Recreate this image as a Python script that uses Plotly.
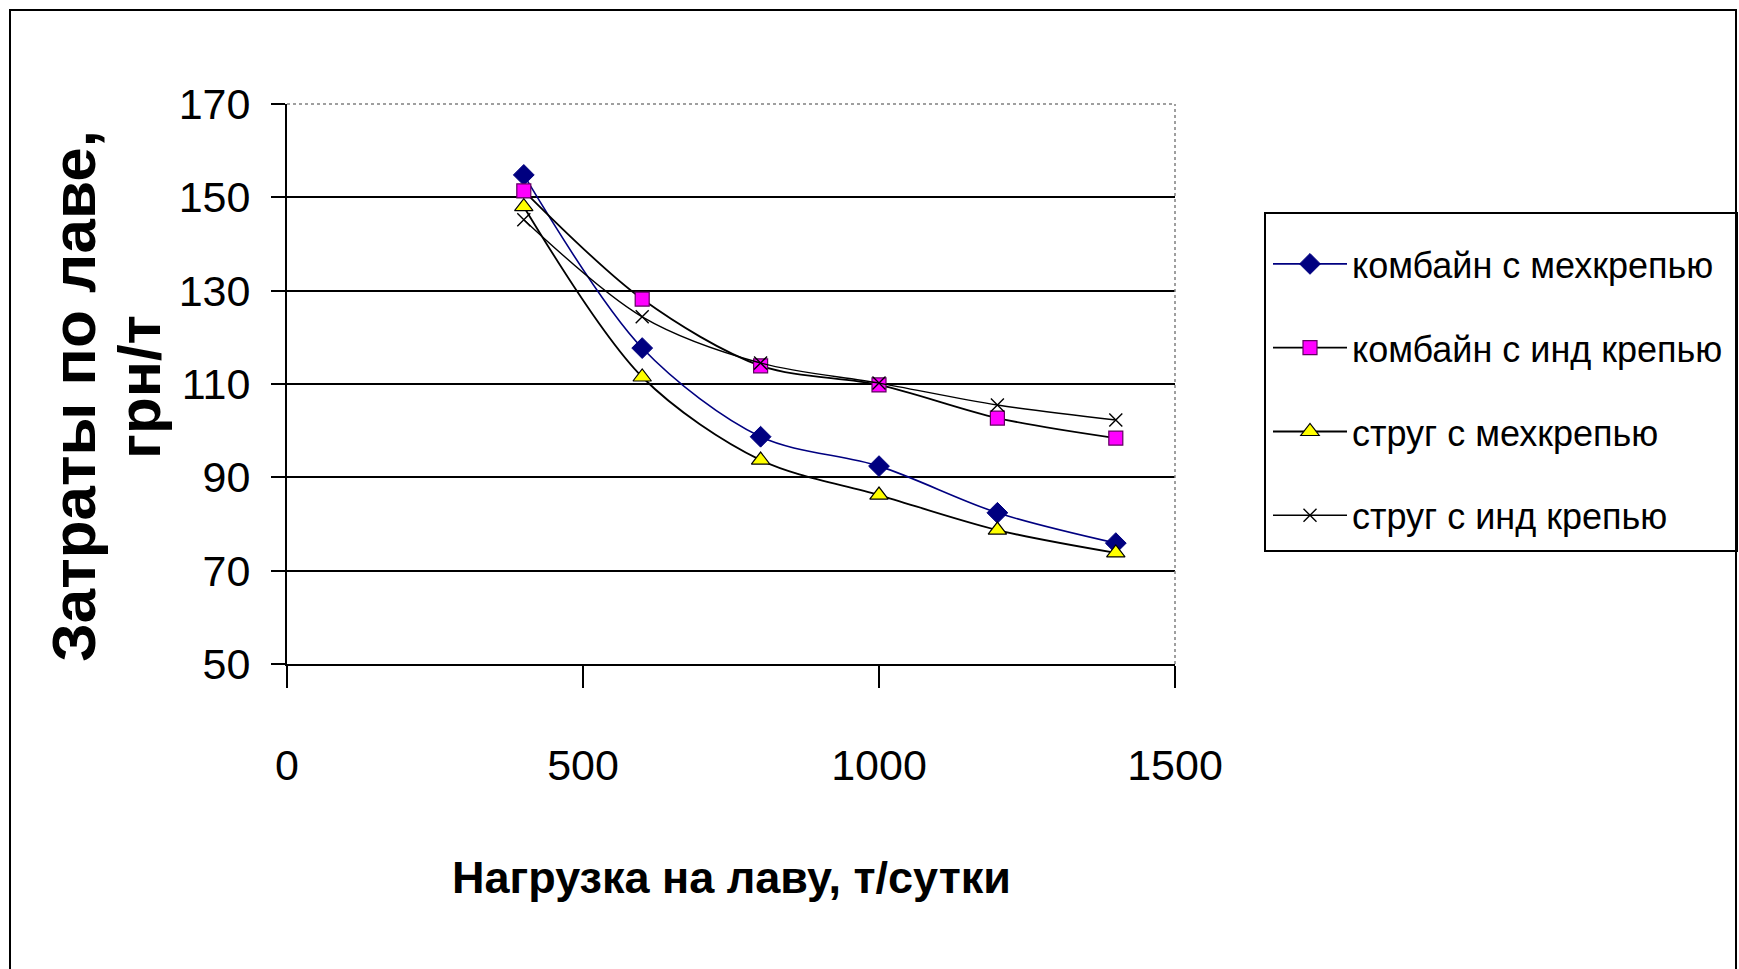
import plotly.graph_objects as go

# Нагрузка на лаву, т/сутки
load = [400, 600, 800, 1000, 1200, 1400]

# Затраты по лаве, грн/т
combine_mech = [154.8, 117.7, 98.7, 92.4, 82.4, 75.9]
combine_ind = [151.4, 128.2, 113.9, 109.8, 102.7, 98.4]
plough_mech = [148.0, 111.5, 93.7, 86.2, 78.7, 73.8]
plough_ind = [145.2, 124.4, 114.5, 110.2, 105.5, 102.3]

series_names = [
    "комбайн с мехкрепью",
    "комбайн с инд крепью",
    "струг с мехкрепью",
    "струг с инд крепью",
]

x_ticks = [0, 500, 1000, 1500]
y_ticks = [50, 70, 90, 110, 130, 150, 170]

W, H = 1739, 969
L, R, T, B = 287, 1175, 104, 664
FONT = "Liberation Sans, Arial, sans-serif"


def px(x):
    return (x - L) / (R - L)


def py(y):
    return (B - y) / (B - T)


styles = [
    dict(line=dict(color="#000080", width=1.6),
         marker=dict(symbol="diamond", size=16, color="#000080",
                     line=dict(color="#000080", width=1))),
    dict(line=dict(color="#000000", width=1.8),
         marker=dict(symbol="square", size=14, color="#ff00ff",
                     line=dict(color="#600060", width=1.2))),
    dict(line=dict(color="#000000", width=1.8),
         marker=dict(symbol="triangle-up", size=16, color="#ffff00",
                     line=dict(color="#000000", width=1.2))),
    dict(line=dict(color="#000000", width=1.4),
         marker=dict(symbol="x-thin-open", size=13, color="#000000",
                     line=dict(color="#000000", width=1.4))),
]

fig = go.Figure()
for i, (name, ys) in enumerate(zip(series_names,
                                   [combine_mech, combine_ind, plough_mech, plough_ind])):
    fig.add_trace(go.Scatter(
        x=load, y=ys, name=name, mode="lines+markers",
        line_shape="spline", legendgroup=f"g{i}",
        line=dict(styles[i]["line"], smoothing=0.9),
        marker=styles[i]["marker"],
    ))

# outer frame of the chart
fig.add_shape(type="rect", xref="paper", yref="paper",
              x0=px(10), x1=px(1736), y0=py(975), y1=py(10),
              line=dict(color="#000000", width=2), layer="below")
# legend frame
fig.add_shape(type="rect", xref="paper", yref="paper",
              x0=px(1265), x1=px(1737), y0=py(551), y1=py(213),
              line=dict(color="#000000", width=2), layer="below")
# plot-area border (top and right), dotted grey
fig.add_shape(type="line", xref="paper", yref="paper",
              x0=0, x1=1, y0=1, y1=1,
              line=dict(color="#808080", width=1.5, dash="dot"))
fig.add_shape(type="line", xref="paper", yref="paper",
              x0=1, x1=1, y0=0, y1=1,
              line=dict(color="#808080", width=1.5, dash="dot"))

# axis titles
fig.add_annotation(text="<b>Нагрузка на лаву, т/сутки</b>", xref="paper", yref="paper",
                   x=px(731), y=py(877), xanchor="center", yanchor="middle",
                   showarrow=False, font=dict(family=FONT, size=45, color="#000000"))
fig.add_annotation(text="<b>Затраты по лаве,</b>", xref="paper", yref="paper",
                   x=px(74), y=py(396), xanchor="center", yanchor="middle",
                   showarrow=False, textangle=-90,
                   font=dict(family=FONT, size=62, color="#000000"))
fig.add_annotation(text="<b>грн/т</b>", xref="paper", yref="paper",
                   x=px(139), y=py(387), xanchor="center", yanchor="middle",
                   showarrow=False, textangle=-90,
                   font=dict(family=FONT, size=60, color="#000000"))

fig.update_layout(
    width=W, height=H,
    margin=dict(l=L, r=W - R, t=T, b=H - B, autoexpand=False),
    paper_bgcolor="#ffffff", plot_bgcolor="#ffffff",
    showlegend=True,
    legend=dict(
        x=px(1268), y=py(234), xanchor="left", yanchor="top",
        borderwidth=0, bgcolor="rgba(0,0,0,0)",
        font=dict(family=FONT, size=36, color="#000000"),
        tracegroupgap=34, itemwidth=74, traceorder="grouped",
    ),
    xaxis=dict(
        range=[0, 1500], tickvals=x_ticks, ticktext=[str(v) for v in x_ticks],
        showgrid=False, zeroline=False, showline=True, linecolor="#000000", linewidth=2,
        ticks="outside", ticklen=22, tickwidth=2, tickcolor="#000000",
        ticklabelstandoff=40,
        tickfont=dict(family=FONT, size=43, color="#000000"),
    ),
    yaxis=dict(
        range=[50, 170], tickvals=y_ticks, ticktext=[str(v) for v in y_ticks],
        showgrid=True, gridcolor="#000000", gridwidth=2,
        zeroline=False, showline=True, linecolor="#000000", linewidth=2,
        ticks="outside", ticklen=14, tickwidth=2, tickcolor="#000000",
        ticklabelstandoff=12,
        tickfont=dict(family=FONT, size=43, color="#000000"),
    ),
)

fig.write_html("out.html")
